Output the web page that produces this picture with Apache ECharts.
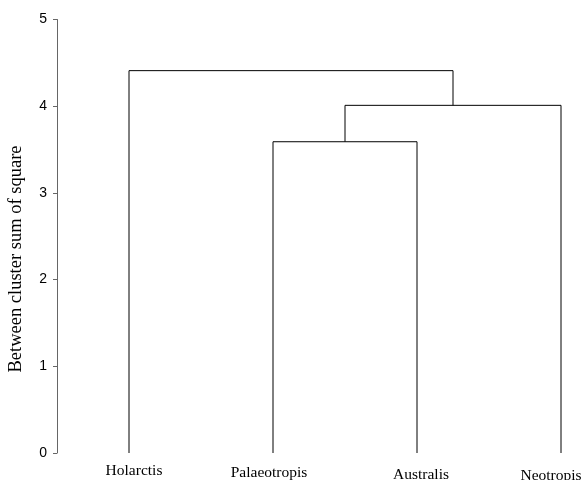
<!DOCTYPE html>
<html>
<head>
<meta charset="utf-8">
<script src="https://cdn.jsdelivr.net/npm/echarts@6/dist/echarts.min.js"></script>
<style>html,body{margin:0;padding:0;background:#fff}#c{width:582px;height:480px}</style>
</head>
<body>
<div id="c"></div>
<script>
// Leaves of the dendrogram (left to right)
const categories = ['Holarctis', 'Palaeotropis', 'Australis', 'Neotropis'];
// Merges (scipy-style linkage): node ids 0..3 are leaves, 4.. are merged clusters
const mergeLeft = [1, 4, 0];
const mergeRight = [2, 3, 5];
const mergeHeight = [3.59, 4.01, 4.41];
const yTicks = [0, 1, 2, 3, 4, 5];

const nodeX = categories.map((_, i) => i);
const nodeH = categories.map(() => 0);
const series = [];
mergeHeight.forEach((h, k) => {
  const l = mergeLeft[k], r = mergeRight[k];
  series.push({
    type: 'line', silent: true, symbol: 'none', animation: false,
    lineStyle: { color: '#000', width: 1 },
    data: [[nodeX[l], nodeH[l]], [nodeX[l], h], [nodeX[r], h], [nodeX[r], nodeH[r]]]
  });
  nodeX.push((nodeX[l] + nodeX[r]) / 2);
  nodeH.push(h);
});

// small label nudges seen in the original (vertical stagger, horizontal shift)
const labelDy = [0, 2, 4, 5];
const labelDx = [5, -4, 4, -10];
const rich = {};
categories.forEach((c, i) => {
  const dx = labelDx[i];
  rich['r' + i] = {
    fontFamily: 'Liberation Serif', fontSize: 15.5, color: '#000',
    padding: [labelDy[i], dx < 0 ? -2 * dx : 0, 0, dx > 0 ? 2 * dx : 0]
  };
});

const chart = echarts.init(document.getElementById('c'), null, { renderer: 'canvas' });
chart.setOption({
  animation: false,
  grid: { left: 57, top: 19.5, bottom: 27, width: 518.4, containLabel: false, outerBoundsMode: 'none' },
  xAxis: {
    type: 'value', min: -0.5, max: 3.1,
    axisLine: { show: false }, axisTick: { show: false }, splitLine: { show: false },
    axisLabel: {
      customValues: categories.map((_, i) => i),
      margin: 10,
      hideOverlap: false,
      formatter: v => '{r' + v + '|' + categories[v] + '}',
      rich: rich
    }
  },
  yAxis: {
    type: 'value', min: 0, max: 5, interval: 1,
    axisLine: { show: true, onZero: false, lineStyle: { color: '#666', width: 1 } },
    axisTick: { show: true, inside: false, length: 4, lineStyle: { color: '#666' } },
    splitLine: { show: false },
    axisLabel: { margin: 10, color: '#000', fontFamily: 'Liberation Sans', fontSize: 14,
      customValues: yTicks }
  },
  graphic: [{
    type: 'text', x: 7, y: 259, rotation: Math.PI / 2,
    style: { text: 'Between cluster sum of square', font: '18.5px "Liberation Serif"', fill: '#000',
      align: 'center', verticalAlign: 'top' }
  }],
  series: series
});
</script>
</body>
</html>
